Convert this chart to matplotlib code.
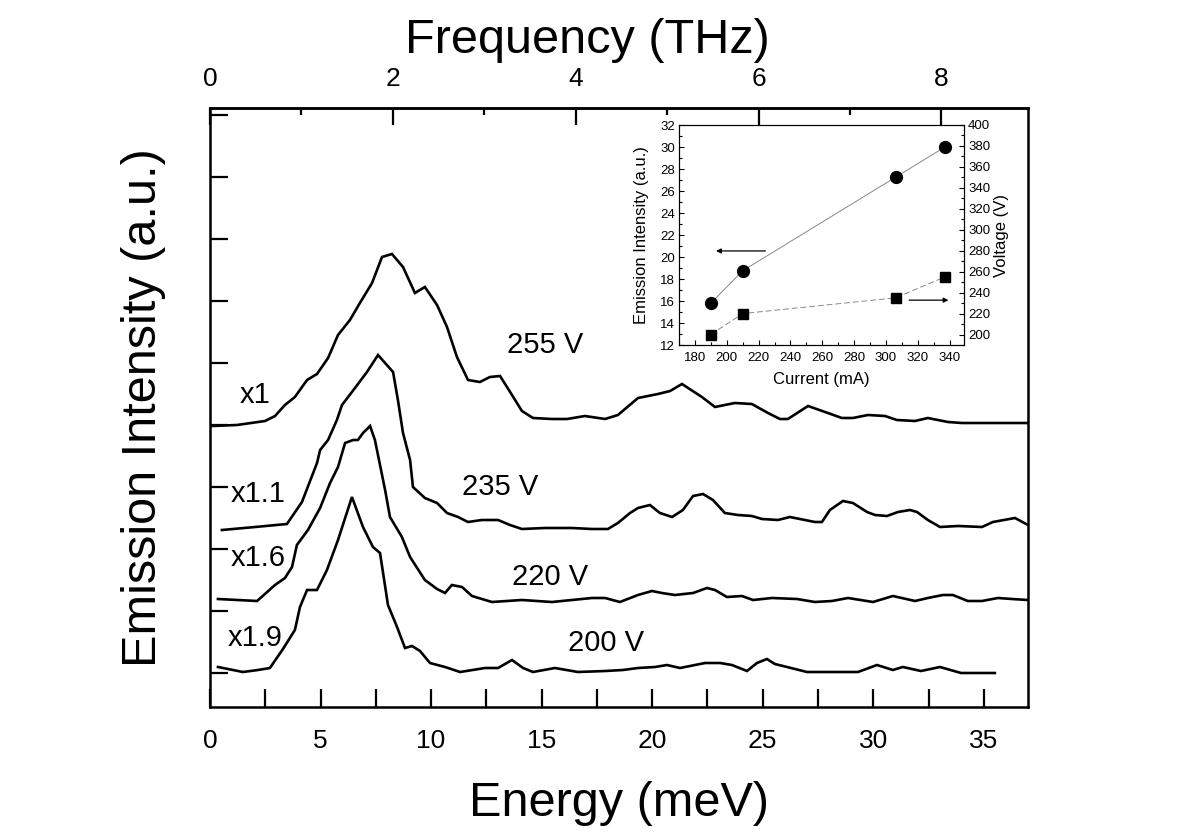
import numpy as np
import matplotlib
matplotlib.use('Agg')
import matplotlib.pyplot as plt
from matplotlib.ticker import MultipleLocator

plt.rcParams['font.family'] = ['Liberation Sans', 'DejaVu Sans']

MEV_PER_THZ = 4.1357

# spectra: energy (meV), intensity (a.u., vertically offset)
e_255 = [0.09, 1.22, 2.49, 2.94, 3.39, 3.84, 4.39, 4.84, 5.34, 5.79, 6.33, 6.78, 7.33, 7.78,
         8.23, 8.73, 9.27, 9.72, 10.27, 10.72, 11.17, 11.67, 12.21, 12.66, 13.12, 13.66, 14.11,
         14.61, 15.47, 16.15, 16.96, 17.87, 18.45, 19.36, 20.26, 20.81, 21.35, 22.25, 22.84,
         23.74, 24.51, 25.24, 25.78, 26.14, 27.05, 27.82, 28.58, 29.08, 29.76, 30.53, 31.07,
         31.89, 32.47, 33.38, 34.01, 37.0]
i_255 = [279, 280, 284, 289, 300, 308, 325, 331, 347, 370, 385, 402, 422, 448,
         451, 438, 412, 418, 400, 378, 348, 325, 323, 328, 329, 310, 294,
         287, 286, 286, 289, 286, 290, 307, 311, 314, 321, 308, 298,
         302, 301, 292, 286, 286, 299, 293, 287, 287, 290, 289, 285,
         284, 287, 283, 282, 282]

e_235 = [0.54, 2.04, 3.48, 4.16, 4.84, 4.98, 5.34, 5.74, 5.97, 6.42, 7.10, 7.60, 8.28, 8.50,
         8.73, 9.05, 9.18, 9.72, 10.27, 10.72, 11.22, 11.67, 12.30, 13.03, 13.57, 14.11, 15.15,
         16.37, 17.28, 18.00, 18.45, 19.00, 19.36, 19.90, 20.35, 20.90, 21.39, 21.85, 22.30,
         22.75, 23.29, 23.88, 24.51, 24.97, 25.69, 26.23, 26.91, 27.36, 27.68, 28.04, 28.63,
         29.08, 29.72, 30.08, 30.62, 31.12, 31.66, 31.98, 32.47, 33.02, 33.83, 34.92, 35.41,
         36.41, 37.0]
i_235 = [175, 178, 181, 203, 242, 255, 265, 285, 300, 313, 333, 350, 333, 305,
         272, 245, 218, 207, 202, 192, 188, 183, 185, 185, 180, 176, 177,
         177, 176, 176, 182, 192, 197, 200, 192, 188, 195, 209, 211,
         205, 192, 190, 189, 186, 185, 188, 185, 183, 183, 195, 204,
         202, 193, 190, 189, 193, 195, 193, 185, 178, 179, 178, 183,
         187, 180]

e_220 = [0.36, 2.13, 2.94, 3.39, 3.71, 3.93, 4.43, 4.98, 5.43, 5.79, 6.11, 6.47, 6.69, 6.92,
         7.24, 7.46, 7.92, 8.14, 8.68, 9.05, 9.72, 10.27, 10.63, 10.94, 11.40, 11.85, 12.75,
         14.11, 15.47, 16.37, 17.28, 17.87, 18.54, 19.36, 19.99, 20.44, 21.03, 21.85, 22.48,
         22.84, 23.38, 24.06, 24.56, 25.42, 26.55, 27.36, 28.13, 28.86, 29.99, 30.89, 31.89,
         32.47, 33.15, 33.60, 34.28, 34.92, 35.64, 36.27, 37.0]
i_220 = [106, 104, 120, 127, 138, 160, 175, 197, 222, 238, 262, 265, 265, 272,
         279, 265, 215, 188, 168, 148, 125, 116, 112, 120, 118, 109, 103,
         105, 103, 105, 107, 107, 103, 110, 114, 112, 110, 112, 117,
         115, 108, 109, 105, 107, 106, 103, 104, 107, 103, 109, 104,
         107, 110, 110, 104, 104, 107, 106, 105]

e_200 = [0.36, 1.49, 2.17, 2.71, 3.30, 3.84, 4.07, 4.39, 4.84, 5.29, 5.79, 6.42, 6.92, 7.37,
         7.69, 8.05, 8.46, 8.82, 9.14, 9.50, 9.95, 10.63, 11.31, 12.44, 13.03, 13.66, 14.16,
         14.61, 15.60, 16.64, 17.87, 18.68, 19.36, 20.13, 20.67, 21.26, 21.94, 22.39, 23.07,
         23.61, 24.29, 24.74, 25.19, 25.55, 26.10, 27.00, 28.18, 29.31, 30.17, 30.89, 31.34,
         32.16, 33.02, 33.97, 35.50]
i_200 = [38, 33, 35, 37, 56, 75, 98, 115, 115, 135, 165, 208, 178, 158,
         152, 100, 78, 57, 59, 54, 42, 38, 33, 37, 37, 45, 37,
         33, 37, 33, 34, 35, 37, 38, 40, 37, 40, 42, 42,
         40, 34, 42, 46, 41, 38, 33, 33, 33, 40, 35, 38,
         34, 38, 32, 32]

# labels next to each spectrum: (text, energy, intensity)
labels = [('x1', 2.04, 310), ('255 V', 15.15, 360),
          ('x1.1', 2.17, 211), ('235 V', 13.12, 218),
          ('x1.6', 2.17, 147), ('220 V', 15.38, 128),
          ('x1.9', 2.04, 67), ('200 V', 17.91, 62)]

# inset: emission intensity and voltage vs current
current = [190, 210, 306, 337]
intensity = [15.8, 18.75, 27.25, 30.0]
voltage = [200, 220, 235, 255]

fig = plt.figure(figsize=(12, 8.38), dpi=100)
ax = fig.add_axes([210 / 1200, 1 - 707 / 838, 818 / 1200, 599 / 838])

for e, i in ((e_255, i_255), (e_235, i_235), (e_220, i_220), (e_200, i_200)):
    ax.plot(e, i, color='black', lw=1.9, solid_joinstyle='miter')

for txt, x, y in labels:
    ax.text(x, y, txt, fontsize=21, ha='center', va='center')

ax.set_xlim(0, 37)
ax.set_ylim(-2, 597)
ax.set_yticks(np.arange(32, 591, 62))
ax.set_yticklabels([])
ax.xaxis.set_major_locator(MultipleLocator(5))
ax.xaxis.set_minor_locator(MultipleLocator(2.5))
ax.tick_params(which='both', direction='in', width=1.6, length=13, labelsize=19, pad=16)
ax.tick_params(axis='y', right=False)
for s in ax.spines.values():
    s.set_linewidth(1.8)
ax.set_xlabel('Energy (meV)', fontsize=35, labelpad=20)
ax.set_ylabel('Emission Intensity (a.u.)', fontsize=35, labelpad=16)

top = ax.secondary_xaxis('top', functions=(lambda e: e / MEV_PER_THZ, lambda f: f * MEV_PER_THZ))
top.xaxis.set_major_locator(MultipleLocator(2))
top.xaxis.set_minor_locator(MultipleLocator(1))
top.tick_params(which='both', direction='in', width=1.6, labelsize=19, pad=12)
top.tick_params(which='major', length=12)
top.tick_params(which='minor', length=5)
top.spines['top'].set_linewidth(1.8)
top.set_xlabel('Frequency (THz)', fontsize=35, labelpad=10, x=0.461)

# inset
ins = fig.add_axes([679 / 1200, 1 - 345 / 838, 285 / 1200, 220 / 838])
ins.plot(current, intensity, color='#888888', lw=0.7, zorder=1)
ins.plot(current, intensity, 'o', color='black', ms=8.5, zorder=2)
ins.set_xlim(170, 349)
ins.set_ylim(12, 32)
ins.xaxis.set_major_locator(MultipleLocator(20))
ins.xaxis.set_minor_locator(MultipleLocator(10))
ins.yaxis.set_major_locator(MultipleLocator(2))
ins.yaxis.set_minor_locator(MultipleLocator(1))
ins.tick_params(which='both', direction='in', labelsize=9.5, width=0.8, pad=3)
ins.tick_params(axis='x', which='both', pad=5)
ins.tick_params(which='major', length=3.5)
ins.tick_params(which='minor', length=2)
ins.set_xlabel('Current (mA)', fontsize=12, labelpad=6)
ins.set_ylabel('Emission Intensity (a.u.)', fontsize=12, labelpad=8)
ins.annotate('', xy=(191.5, 20.55), xytext=(226, 20.55),
             arrowprops=dict(arrowstyle='-|>', color='black', lw=0.9, mutation_scale=7))

ins2 = ins.twinx()
ins2.plot(current, voltage, color='#888888', lw=0.7, ls=(0, (6, 3)), zorder=1)
ins2.plot(current, voltage, 's', color='black', ms=7.5, zorder=2)
ins2.set_ylim(190, 400)
ins2.yaxis.set_major_locator(MultipleLocator(20))
ins2.yaxis.set_minor_locator(MultipleLocator(10))
ins2.tick_params(which='both', direction='in', labelsize=9.5, width=0.8, pad=3)
ins2.tick_params(which='major', length=3.5)
ins2.tick_params(which='minor', length=2)
ins2.set_ylabel('Voltage (V)', fontsize=12, labelpad=3)
ins2.annotate('', xy=(341, 232.8), xytext=(312.8, 232.8),
              arrowprops=dict(arrowstyle='-|>', color='black', lw=0.9, mutation_scale=7))
for a in (ins, ins2):
    for s in a.spines.values():
        s.set_linewidth(0.8)

fig.savefig('out.png', dpi=100)
